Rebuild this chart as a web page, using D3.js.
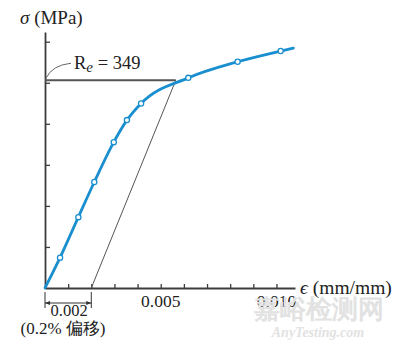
<!DOCTYPE html>
<html>
<head>
<meta charset="utf-8">
<script src="https://cdn.jsdelivr.net/npm/d3@7/dist/d3.min.js"></script>
<style>
  html, body { margin: 0; padding: 0; background: #fff; }
  svg { display: block; }
  text { font-family: "Liberation Serif", "DejaVu Serif", serif; fill: #222; }
</style>
</head>
<body>
<svg id="chart" width="400" height="350"></svg>
<script>
// Stress–strain curve (strain in mm/mm, stress in MPa)
const strain = [0, 0.00065, 0.00144, 0.00213, 0.00297, 0.00354, 0.00415, 0.00619, 0.00832, 0.01018, 0.01073];
const stress = [0, 51, 119, 178, 245, 282, 310, 353, 380, 398, 403];
// Which curve points carry a circle marker
const markerIdx = [1, 2, 3, 4, 5, 6, 7, 8, 9];

// Axis ticks: strain every 0.001, stress every 10 ksi (68.95 MPa)
const xTicks = [0.001, 0.002, 0.003, 0.004, 0.005, 0.006, 0.007, 0.008, 0.009, 0.010];
const xTickLabels = ["0.005", "0.010"];
const yTicks = [68.95, 137.9, 206.85, 275.8, 344.75, 413.7];

// 0.2% offset construction
const offsetStrain = 0.002;
const offsetEndStrain = 0.00565;
const yieldStress = 349;

const svg = d3.select("#chart");
const x = d3.scaleLinear().domain([0, 0.0108]).range([45, 295]);
const y = d3.scaleLinear().domain([0, 430]).range([288, 32]);

const axisColor = "#3c3c3c";
const blue = "#1a8fd0";

// y axis with inward ticks, no labels
const gy = svg.append("g").attr("transform", `translate(${x(0)},0)`)
  .call(d3.axisRight(y).tickValues(yTicks).tickSizeInner(5).tickSizeOuter(0).tickFormat(""));
gy.select(".domain").attr("stroke", axisColor).attr("stroke-width", 1.8);
gy.selectAll(".tick line").attr("stroke", axisColor).attr("stroke-width", 1.3);

// x axis with upward ticks
const gx = svg.append("g").attr("transform", `translate(0,${y(0)})`)
  .call(d3.axisBottom(x).tickValues(xTicks).tickSizeInner(-4).tickSizeOuter(0).tickFormat(""));
gx.select(".domain").attr("stroke", axisColor).attr("stroke-width", 1.8);
gx.selectAll(".tick line").attr("stroke", axisColor).attr("stroke-width", 1.3);

// x tick labels
svg.selectAll(".xlab").data(xTickLabels).enter().append("text")
  .attr("x", d => x(+d)).attr("y", y(0) + 19)
  .attr("text-anchor", "middle").attr("font-size", 17.5).text(d => d);

// axis titles
const yt = svg.append("text").attr("x", 20).attr("y", 24).attr("font-size", 19);
yt.append("tspan").attr("font-style", "italic").text("σ");
yt.append("tspan").text(" (MPa)");
const xt = svg.append("text").attr("x", x(0.0108) + 5).attr("y", y(0) + 6).attr("font-size", 19.5);
xt.append("tspan").attr("font-style", "italic").text("ϵ");
xt.append("tspan").text(" (mm/mm)");

// offset line parallel to the elastic region
svg.append("line")
  .attr("x1", x(offsetStrain)).attr("y1", y(0))
  .attr("x2", x(offsetEndStrain)).attr("y2", y(yieldStress))
  .attr("stroke", "#555").attr("stroke-width", 1);

// yield stress line
svg.append("line")
  .attr("x1", x(0)).attr("y1", y(yieldStress))
  .attr("x2", x(offsetEndStrain)).attr("y2", y(yieldStress))
  .attr("stroke", "#555").attr("stroke-width", 2);

// stress–strain curve
const pts = strain.map((s, i) => [s, stress[i]]);
svg.append("path")
  .attr("d", d3.line().x(d => x(d[0])).y(d => y(d[1])).curve(d3.curveMonotoneX)(pts))
  .attr("fill", "none").attr("stroke", blue).attr("stroke-width", 2.8)
  .attr("stroke-linecap", "round");

svg.selectAll(".pt").data(markerIdx).enter().append("circle")
  .attr("cx", i => x(strain[i])).attr("cy", i => y(stress[i])).attr("r", 2.6)
  .attr("fill", "#fff").attr("stroke", blue).attr("stroke-width", 1.3);

// Re label with leader
const ry = y(yieldStress);
svg.append("path")
  .attr("d", `M${x(0) + 1},${ry - 2} Q${x(0) + 7},${ry - 15} ${x(0) + 26},${ry - 17}`)
  .attr("fill", "none").attr("stroke", "#666").attr("stroke-width", 1);
const re = svg.append("text").attr("x", x(0) + 29).attr("y", ry - 11).attr("font-size", 18.5);
re.append("tspan").text("R");
re.append("tspan").attr("font-style", "italic").attr("font-size", 15).attr("dy", 3).text("e");
re.append("tspan").attr("dy", -3).text(" = " + yieldStress);

// 0.002 offset dimension
const dimG = svg.append("g").attr("stroke", "#333").attr("stroke-width", 1);
[0, offsetStrain].forEach(s => {
  dimG.append("line").attr("x1", x(s)).attr("x2", x(s)).attr("y1", y(0) + 4).attr("y2", y(0) + 20);
});
dimG.append("line").attr("x1", x(0)).attr("x2", x(offsetStrain)).attr("y1", y(0) + 15).attr("y2", y(0) + 15);
svg.append("path")
  .attr("d", `M${x(0)},${y(0) + 15} l5,-2 v4 z M${x(offsetStrain)},${y(0) + 15} l-5,-2 v4 z`)
  .attr("fill", "#333");
svg.append("text").attr("x", (x(0) + x(offsetStrain)) / 2 + 1).attr("y", y(0) + 28)
  .attr("text-anchor", "middle").attr("font-size", 16.5).text("0.002");
svg.append("text").attr("x", 63).attr("y", y(0) + 46)
  .attr("text-anchor", "middle").attr("font-size", 17).text("(0.2% 偏移)");

// site mark
svg.append("text").attr("x", 319).attr("y", 318).attr("text-anchor", "middle")
  .attr("font-family", "Noto Sans CJK SC").attr("font-weight", "bold").attr("font-size", 26)
  .style("fill", "#e2e2e2").text("嘉峪检测网");
svg.append("text").attr("x", 318).attr("y", 337).attr("text-anchor", "middle")
  .attr("font-family", "DejaVu Sans").attr("font-weight", "bold").attr("font-style", "italic").attr("font-size", 14)
  .style("fill", "#e2e2e2").text("AnyTesting.com");
</script>
</body>
</html>
